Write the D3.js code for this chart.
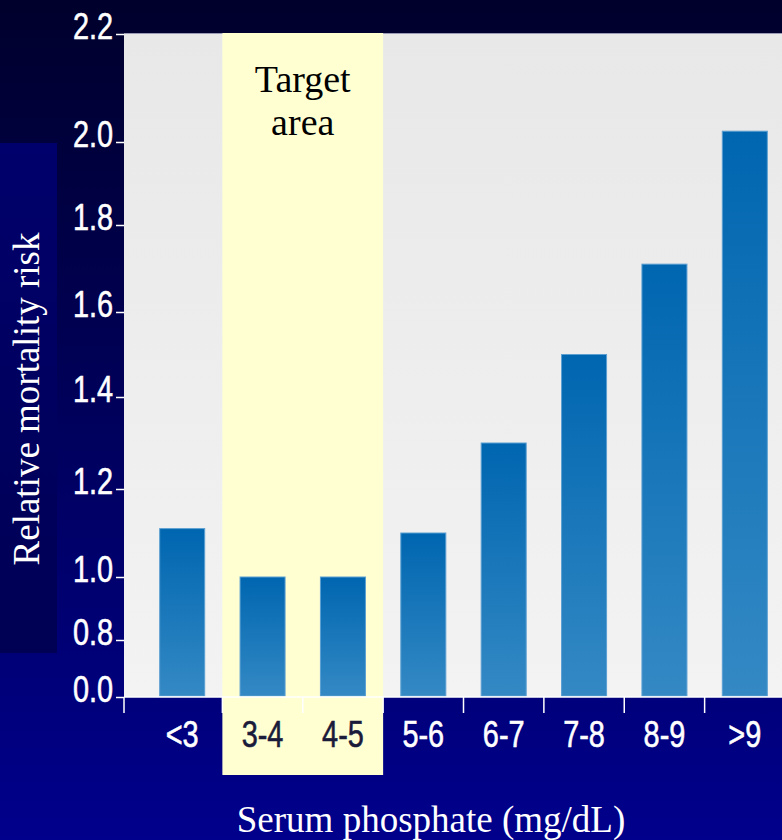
<!DOCTYPE html>
<html>
<head>
<meta charset="utf-8">
<script src="https://cdn.jsdelivr.net/npm/d3@7/dist/d3.min.js"></script>
<style>
	body { margin: 0; background: #000040; }
	svg { display: block; }
</style>
</head>
<body>
<div id="chart"></div>
<script>
// DATA
const categories = ["<3", "3-4", "4-5", "5-6", "6-7", "7-8", "8-9", ">9"];
const riskValues = [1.11, 1.0, 1.0, 1.1, 1.3, 1.5, 1.71, 2.02];
const yTickValues = [0.0, 0.8, 1.0, 1.2, 1.4, 1.6, 1.8, 2.0, 2.2];
const targetCategories = ["3-4", "4-5"];
const targetLabel = ["Target", "area"];


// SVG DIMENSIONS
const width = 782;
const height = 840;
const plot = { left: 124, top: 33, right: 782, bottom: 697 };

const svg = d3.select("#chart")
	.append("svg")
	.attr("width", width)
	.attr("height", height);

const defs = svg.append("defs");
function vGradient(id, top, bottom) {
	const g = defs.append("linearGradient")
		.attr("id", id)
		.attr("x1", 0).attr("y1", 0).attr("x2", 0).attr("y2", 1);
	g.append("stop").attr("offset", "0%").attr("stop-color", top);
	g.append("stop").attr("offset", "100%").attr("stop-color", bottom);
}
vGradient("bg", "#00002c", "#00008c");
vGradient("titleBox", "#00006c", "#000054");
vGradient("plotBg", "#e8e8e8", "#f3f3f3");
vGradient("bar", "#0066b0", "#3489c4");


// SCALES
// the slide's y axis is not evenly spaced, so the scale is piecewise
const yBreaks = [697, 640, 577, 489, 397, 312, 225, 142, 34];
const y = d3.scaleLinear()
	.domain(yTickValues)
	.range(yBreaks);

const x = d3.scaleBand()
	.domain(categories)
	.range([142, 785])
	.paddingInner(0.44)
	.paddingOuter(0.22);
const step = x.step();
const cellLeft = d => x(d) - step * x.paddingInner() / 2;


// BACKGROUND
svg.append("rect")
	.attr("width", width).attr("height", height)
	.attr("fill", "url(#bg)");
svg.append("rect")
	.attr("x", 0).attr("y", 143)
	.attr("width", 57).attr("height", 510)
	.attr("fill", "url(#titleBox)");

svg.append("rect")
	.attr("x", plot.left).attr("y", plot.top)
	.attr("width", plot.right - plot.left)
	.attr("height", plot.bottom - plot.top)
	.attr("fill", "url(#plotBg)");
svg.append("line")
	.attr("x1", plot.left).attr("x2", plot.right)
	.attr("y1", plot.top + 0.5).attr("y2", plot.top + 0.5)
	.attr("stroke", "#9a9ab4");

// target area
const tx0 = cellLeft(targetCategories[0]);
const tx1 = cellLeft(targetCategories[targetCategories.length - 1]) + step;
svg.append("rect")
	.attr("x", tx0).attr("y", plot.top)
	.attr("width", tx1 - tx0)
	.attr("height", 775 - plot.top)
	.attr("fill", "#ffffd2");

svg.append("text")
	.attr("x", (tx0 + tx1) / 2)
	.attr("y", 92)
	.attr("text-anchor", "middle")
	.style("font-family", "'Liberation Serif', 'Times New Roman', serif")
	.style("font-size", "38px")
	.attr("fill", "#000")
	.selectAll("tspan")
	.data(targetLabel)
	.enter()
	.append("tspan")
		.attr("x", (tx0 + tx1) / 2)
		.attr("dy", (d, i) => i ? 43 : 0)
		.text(d => d);


// BARS
svg.append("g")
	.selectAll("rect")
	.data(categories)
	.enter()
	.append("rect")
		.attr("x", d => x(d))
		.attr("y", (d, i) => y(riskValues[i]))
		.attr("width", x.bandwidth())
		.attr("height", (d, i) => y(0) - 1 - y(riskValues[i]))
		.attr("fill", "url(#bar)")
		.attr("stroke", "#5b9fd2")
		.attr("stroke-width", 1);


// AXES
// no narrow face installed, so squeeze the regular one horizontally
const tickFont = "'Liberation Sans', Arial, sans-serif";
const squeeze = 0.78;

const yAxis = svg.append("g")
	.attr("transform", `translate(${plot.left},0)`)
	.call(d3.axisLeft(y)
		.tickValues(yTickValues)
		.tickFormat(d3.format(".1f"))
		.tickSize(8)
		.tickPadding(4));
yAxis.select(".domain").remove();
yAxis.selectAll("line").attr("stroke", "#fff").attr("stroke-width", 1.5);
yAxis.selectAll("text")
	.attr("x", -11 / squeeze)
	.attr("transform", `scale(${squeeze},1)`)
	.attr("dy", "0.12em")
	.attr("fill", "#fff")
	.attr("stroke", "#fff")
	.attr("stroke-width", 0.6)
	.style("font-family", tickFont)
	.style("font-size", "37px");

// x baseline and boundary ticks
svg.append("line")
	.attr("x1", plot.left).attr("x2", plot.right)
	.attr("y1", plot.bottom).attr("y2", plot.bottom)
	.attr("stroke", "#fff").attr("stroke-width", 1.5);

const boundaries = [plot.left].concat(categories.slice(1).map(cellLeft));
svg.append("g")
	.selectAll("line")
	.data(boundaries)
	.enter()
	.append("line")
		.attr("x1", d => d).attr("x2", d => d)
		.attr("y1", plot.bottom).attr("y2", plot.bottom + 16)
		.attr("stroke", "#fff")
		.attr("stroke-width", 1.5);

const xAxis = svg.append("g")
	.attr("transform", `translate(0,${plot.bottom})`)
	.call(d3.axisBottom(x).tickSize(0).tickPadding(0));
xAxis.select(".domain").remove();
xAxis.selectAll("text")
	.attr("y", 50)
	.attr("dy", 0)
	.attr("transform", `scale(${squeeze},1)`)
	.attr("fill", d => targetCategories.includes(d) ? "#1a1a3a" : "#fff")
	.attr("stroke", d => targetCategories.includes(d) ? "#1a1a3a" : "#fff")
	.attr("stroke-width", 0.6)
	.style("font-family", tickFont)
	.style("font-size", "37px");


// AXIS TITLES
svg.append("text")
	.attr("x", 431)
	.attr("y", 832)
	.attr("text-anchor", "middle")
	.attr("fill", "#fff")
	.style("font-family", "'Liberation Serif', 'Times New Roman', serif")
	.style("font-size", "37px")
	.text("Serum phosphate (mg/dL)");

svg.append("text")
	.attr("transform", "translate(39,399) rotate(-90)")
	.attr("text-anchor", "middle")
	.attr("fill", "#fff")
	.style("font-family", "'Liberation Serif', 'Times New Roman', serif")
	.style("font-size", "37px")
	.text("Relative mortality risk");
</script>
</body>
</html>
